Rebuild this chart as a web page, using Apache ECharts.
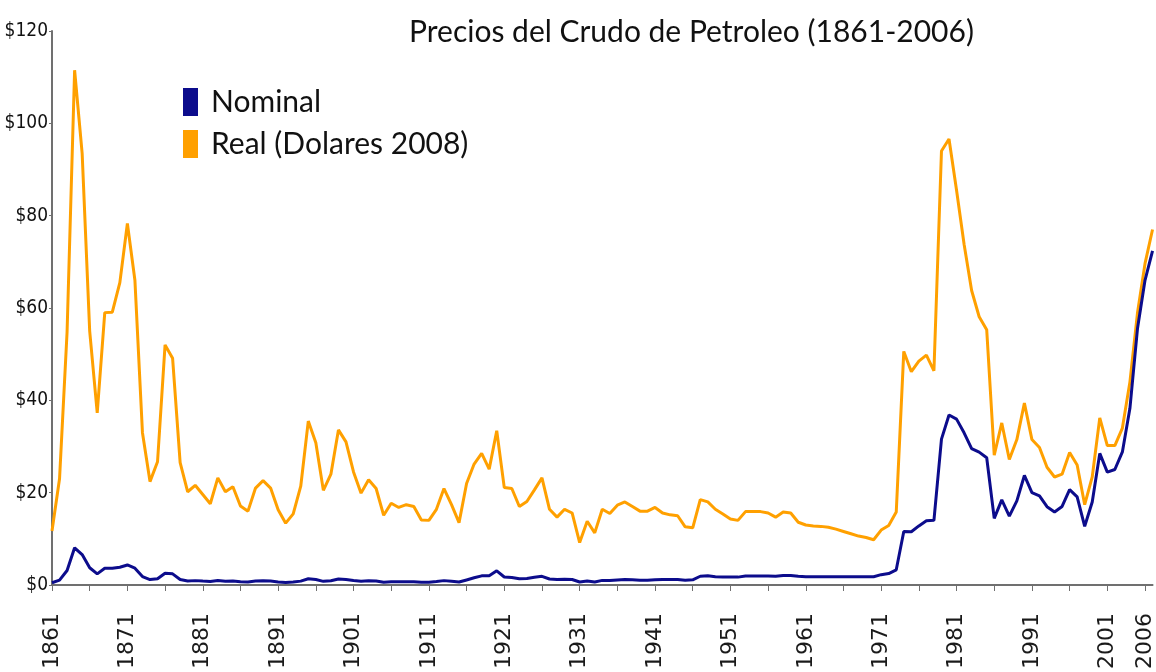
<!DOCTYPE html>
<html>
<head>
<meta charset="utf-8">
<title>Precios del Crudo de Petroleo</title>
<script src="https://cdn.jsdelivr.net/npm/echarts/dist/echarts.min.js"></script>
<style>
  html, body { margin: 0; padding: 0; background: #ffffff; }
  #chart { width: 1156px; height: 672px; }
</style>
</head>
<body>
<div id="chart"></div>
<script>
/*******************************************************************/
/****************************** data *******************************/
/*******************************************************************/

// One point per year, 1861..2007 (the last one is cut by the right edge)
var firstYear = 1861;
var lastYear = 2007;

// Labelled years under the axis
var labelYears = [1861, 1871, 1881, 1891, 1901, 1911, 1921, 1931, 1941, 1951, 1961, 1971, 1981, 1991, 2001, 2006];

// Nominal price, $ per barrel
var nominal = [
  0.49, 1.05, 3.15, 8.06, 6.59, 3.74, 2.41, 3.63, 3.64, 3.86, // 1861-1870
  4.34, 3.64, 1.83, 1.17, 1.35, 2.56, 2.42, 1.19, 0.86, 0.95, // 1871-1880
  0.86, 0.78, 1.00, 0.84, 0.88, 0.71, 0.67, 0.88, 0.94, 0.87, // 1881-1890
  0.67, 0.56, 0.64, 0.84, 1.36, 1.18, 0.79, 0.91, 1.29, 1.19, // 1891-1900
  0.96, 0.80, 0.94, 0.86, 0.62, 0.73, 0.72, 0.72, 0.70, 0.61, // 1901-1910
  0.61, 0.74, 0.95, 0.81, 0.64, 1.10, 1.56, 1.98, 2.01, 3.07, // 1911-1920
  1.73, 1.61, 1.34, 1.43, 1.68, 1.88, 1.30, 1.17, 1.27, 1.19, // 1921-1930
  0.65, 0.87, 0.67, 1.00, 0.97, 1.09, 1.18, 1.13, 1.02, 1.02, // 1931-1940
  1.14, 1.19, 1.20, 1.21, 1.05, 1.12, 1.90, 1.99, 1.78, 1.71, // 1941-1950
  1.71, 1.71, 1.93, 1.93, 1.93, 1.93, 1.90, 2.08, 2.08, 1.90, // 1951-1960
  1.80, 1.80, 1.80, 1.80, 1.80, 1.80, 1.80, 1.80, 1.80, 1.80, // 1961-1970
  2.24, 2.48, 3.29, 11.58, 11.53, 12.80, 13.92, 14.02, 31.61, 36.83, // 1971-1980
  35.93, 32.97, 29.55, 28.78, 27.56, 14.43, 18.44, 14.92, 18.23, 23.73, // 1981-1990
  20.00, 19.32, 16.97, 15.82, 17.02, 20.67, 19.09, 12.72, 17.97, 28.50, // 1991-2000
  24.44, 25.02, 28.83, 38.27, 55.5, 66.0, 72.4 // 2001-2007
];

// Real price, 2008 dollars per barrel
var real = [
  11.7, 23.0, 54.8, 111.5, 93.5, 55.0, 37.3, 59.0, 59.1, 65.5, // 1861-1870
  78.3, 66.0, 33.0, 22.4, 26.7, 52.0, 49.1, 26.5, 20.2, 21.6, // 1871-1880
  19.6, 17.6, 23.2, 20.2, 21.3, 17.1, 16.0, 21.0, 22.6, 21.0, // 1881-1890
  16.3, 13.4, 15.4, 21.4, 35.5, 30.8, 20.5, 24.0, 33.6, 31.0, // 1891-1900
  24.5, 19.9, 22.8, 20.9, 15.1, 17.7, 16.8, 17.4, 17.0, 14.1, // 1901-1910
  14.0, 16.4, 20.9, 17.4, 13.5, 22.0, 26.2, 28.5, 25.1, 33.4, // 1911-1920
  21.1, 20.9, 17.0, 18.1, 20.6, 23.2, 16.4, 14.7, 16.4, 15.6, // 1921-1930
  9.2, 13.8, 11.3, 16.4, 15.5, 17.3, 18.0, 17.0, 16.0, 16.0, // 1931-1940
  16.8, 15.6, 15.2, 15.0, 12.6, 12.4, 18.5, 18.0, 16.4, 15.4, // 1941-1950
  14.3, 14.0, 15.9, 15.9, 15.9, 15.6, 14.7, 15.8, 15.6, 13.6, // 1951-1960
  13.0, 12.8, 12.7, 12.5, 12.1, 11.6, 11.1, 10.6, 10.3, 9.8, // 1961-1970
  11.9, 12.9, 15.8, 50.6, 46.2, 48.5, 49.8, 46.4, 94.0, 96.6, // 1971-1980
  85.5, 73.8, 63.8, 58.1, 55.3, 28.1, 35.1, 27.2, 31.5, 39.4, // 1981-1990
  31.5, 29.8, 25.5, 23.4, 24.0, 28.7, 26.0, 17.4, 23.4, 36.2, // 1991-2000
  30.2, 30.2, 34.0, 44.0, 58.9, 69.6, 77.0 // 2001-2007
];

var years = [];
for (var y = firstYear; y <= lastYear; y++) {
  years.push(String(y));
}

/*******************************************************************/
/***************************** chart *******************************/
/*******************************************************************/

var chart = echarts.init(document.getElementById('chart'), null, { renderer: 'canvas' });

var option = {
  backgroundColor: '#ffffff',
  animation: false,
  title: {
    text: 'Precios del Crudo de Petroleo (1861-2006)',
    left: 404,
    top: 12,
    textStyle: { fontFamily: 'Lato', fontSize: 30, fontWeight: 'normal', color: '#111111' }
  },
  legend: {
    orient: 'vertical',
    left: 178,
    top: 82,
    icon: 'rect',
    itemWidth: 15,
    itemHeight: 28,
    itemGap: 12,
    textStyle: { fontFamily: 'Lato', fontSize: 30, color: '#111111', padding: [0, 0, 0, 8] },
    data: ['Nominal', 'Real (Dolares 2008)']
  },
  grid: { left: 52, right: 0, top: 31, bottom: 77, containLabel: false },
  xAxis: {
    type: 'category',
    data: years,
    boundaryGap: false,
    axisLine: { lineStyle: { color: '#707070', width: 2 } },
    axisTick: {
      length: 6,
      lineStyle: { color: '#707070', width: 1 },
      interval: function (index) { return index % 5 === 0; }
    },
    axisLabel: {
      rotate: 90,
      margin: 28,
      fontFamily: 'DejaVu Sans',
      fontSize: 22,
      color: '#1a1a1a',
      interval: function (index, value) { return labelYears.indexOf(Number(value)) >= 0; }
    },
    splitLine: { show: false }
  },
  yAxis: {
    type: 'value',
    min: 0,
    max: 120,
    interval: 20,
    axisLine: { show: true, lineStyle: { color: '#707070', width: 2 } },
    axisTick: { show: true, length: 3, lineStyle: { color: '#707070' } },
    axisLabel: {
      margin: 4,
      fontFamily: 'Liberation Sans Narrow, DejaVu Sans Condensed, sans-serif',
      fontSize: 19,
      color: '#111111',
      formatter: function (v) { return '$' + v; }
    },
    splitLine: { show: false }
  },
  series: [
    {
      name: 'Nominal',
      type: 'line',
      data: nominal,
      symbol: 'none',
      color: '#0c0c8c',
      lineStyle: { width: 3, color: '#0c0c8c' },
      z: 3
    },
    {
      name: 'Real (Dolares 2008)',
      type: 'line',
      data: real,
      symbol: 'none',
      color: '#ffa000',
      lineStyle: { width: 3, color: '#ffa000' },
      z: 2
    }
  ]
};

chart.setOption(option);
</script>
</body>
</html>
